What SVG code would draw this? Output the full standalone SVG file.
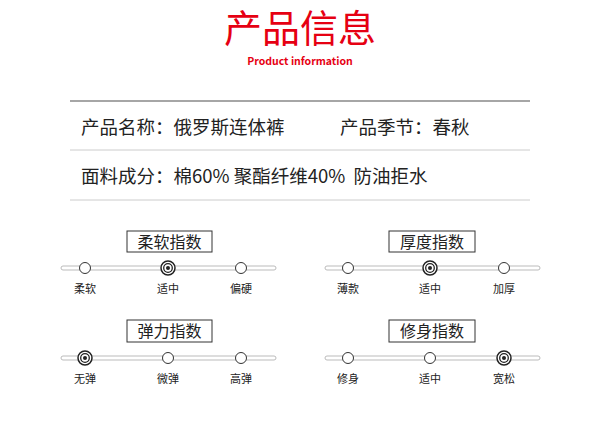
<svg xmlns="http://www.w3.org/2000/svg" width="600" height="435" viewBox="0 0 600 435">
<style>
text{font-family:"Noto Sans CJK SC","Liberation Sans",sans-serif}
.t{fill:#e60012;text-anchor:middle}
.r{font-size:18.5px;fill:#222}
.bx{fill:#fff;stroke:#333;stroke-width:1}
.bt{font-size:16px;fill:#222;text-anchor:middle}
.tr{fill:#fff;stroke:#bbb;stroke-width:1}
.c{fill:#fff;stroke:#333;stroke-width:1}
.l{font-size:11px;fill:#222;text-anchor:middle}
</style>
<rect width="600" height="435" fill="#fff"/>
<text class="t" x="300" y="42" font-size="38">产品信息</text>
<text class="t" x="300" y="65" font-size="10.5" font-weight="bold" font-family="Liberation Sans,sans-serif">Product information</text>
<line x1="70" y1="101" x2="530" y2="101" stroke="#888" stroke-width="1.5"/>
<line x1="70" y1="150" x2="530" y2="150" stroke="#ccc"/>
<line x1="70" y1="200" x2="530" y2="200" stroke="#ccc"/>
<text class="r" x="81" y="134">产品名称：俄罗斯连体裤</text>
<text class="r" x="340" y="134">产品季节：春秋</text>
<text class="r" x="81" y="183" xml:space="preserve">面料成分：棉60% 聚酯纤维40%  防油拒水</text>
<defs>
<g id="sel"><circle r="7" fill="#fff" stroke="#222" stroke-width="1.5"/><circle r="4.3" fill="none" stroke="#222" stroke-width="1.3"/><circle r="2" fill="#222"/></g>
</defs>
<g id="soft">
<rect class="bx" x="127" y="231" width="85" height="21"/><text class="bt" x="169.5" y="248">柔软指数</text>
<rect class="tr" x="61" y="266" width="215" height="4" rx="2"/>
<circle class="c" cx="85" cy="268" r="5.5"/><use href="#sel" x="168" y="268"/><circle class="c" cx="241" cy="268" r="5.5"/>
<text class="l" x="85" y="293">柔软</text><text class="l" x="168" y="293">适中</text><text class="l" x="241" y="293">偏硬</text>
</g>
<g id="thick">
<rect class="bx" x="389" y="231" width="86" height="21"/><text class="bt" x="432" y="248">厚度指数</text>
<rect class="tr" x="325" y="266" width="215" height="4" rx="2"/>
<circle class="c" cx="348" cy="268" r="5.5"/><use href="#sel" x="430" y="268"/><circle class="c" cx="504" cy="268" r="5.5"/>
<text class="l" x="348" y="293">薄款</text><text class="l" x="430" y="293">适中</text><text class="l" x="504" y="293">加厚</text>
</g>
<g id="elastic">
<rect class="bx" x="127" y="320" width="85" height="22"/><text class="bt" x="169.5" y="337">弹力指数</text>
<rect class="tr" x="61" y="356" width="215" height="4" rx="2"/>
<use href="#sel" x="85" y="358"/><circle class="c" cx="168" cy="358" r="5.5"/><circle class="c" cx="241" cy="358" r="5.5"/>
<text class="l" x="85" y="383">无弹</text><text class="l" x="168" y="383">微弹</text><text class="l" x="241" y="383">高弹</text>
</g>
<g id="fit">
<rect class="bx" x="389" y="320" width="86" height="22"/><text class="bt" x="432" y="337">修身指数</text>
<rect class="tr" x="325" y="356" width="215" height="4" rx="2"/>
<circle class="c" cx="348" cy="358" r="5.5"/><circle class="c" cx="430" cy="358" r="5.5"/><use href="#sel" x="504" y="358"/>
<text class="l" x="348" y="383">修身</text><text class="l" x="430" y="383">适中</text><text class="l" x="504" y="383">宽松</text>
</g>
<g id="connectors"/>
</svg>
